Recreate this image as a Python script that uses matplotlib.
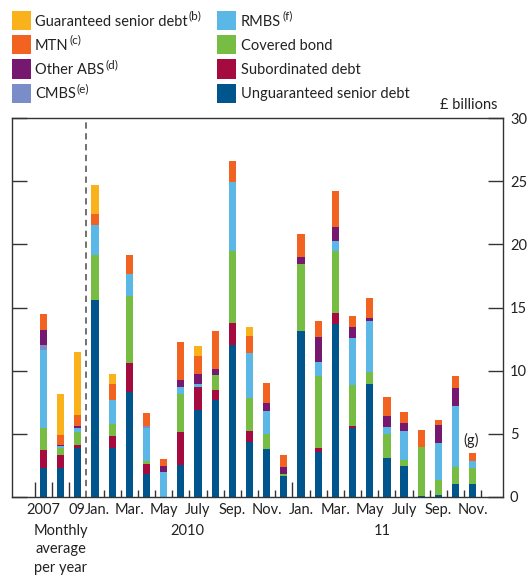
import matplotlib
matplotlib.use("Agg")
import matplotlib.pyplot as plt
import matplotlib.transforms as mtransforms
from matplotlib.patches import Rectangle
import numpy as np

plt.rcParams['font.family'] = ['Lato', 'DejaVu Sans']

# 2007-09 monthly averages, then Jan 2010 .. Nov 2011 (£ billions)
unguar = [2.3, 2.3, 3.9, 15.6, 3.9, 8.3, 1.83, 0, 2.57, 6.87, 7.67, 12.02, 4.38, 3.82, 1.67,
          13.13, 3.58, 13.71, 5.49, 8.91, 3.1, 2.47, 0.08, 0.16, 1.03, 1.03]
subord = [1.44, 1.04, 0.24, 0, 0.95, 2.28, 0.8, 0, 2.6, 1.8, 0.77, 1.75, 0.87, 0, 0,
          0, 0.32, 0.85, 0.13, 0, 0, 0, 0, 0, 0, 0]
covered = [1.75, 0.51, 0.98, 3.58, 0.91, 5.36, 0.23, 0, 2.97, 0, 1.19, 5.73, 2.57, 1.19, 0.16,
           5.33, 5.68, 4.94, 3.21, 0.96, 1.91, 0.47, 3.9, 1.19, 1.36, 1.28]
rmbs = [6.13, 0.21, 0.32, 2.33, 1.91, 1.75, 2.58, 1.99, 0.53, 0.24, 0, 5.4, 3.56, 1.83, 0,
        0, 1.08, 0.79, 3.74, 4.06, 0.56, 2.31, 0, 2.95, 4.85, 0.55]
cmbs = [0.4, 0, 0, 0, 0, 0, 0.2, 0, 0, 0, 0, 0, 0, 0, 0,
        0, 0, 0, 0, 0, 0, 0, 0, 0, 0, 0]
other_abs = [1.2, 0.08, 0.16, 0, 0, 0, 0, 0.48, 0.56, 0.8, 0.48, 0, 0, 0.64, 0.56,
             0.56, 1.99, 1.12, 0.88, 0.23, 0.88, 0.64, 0, 1.43, 1.35, 0]
mtn = [1.28, 0.79, 0.93, 0.88, 1.24, 1.49, 1.04, 0.55, 3.02, 1.43, 3.02, 1.68, 1.35, 1.51, 0.95,
       1.83, 1.28, 2.78, 0.87, 1.6, 1.43, 0.87, 1.35, 0.4, 0.96, 0.59]
guar = [0, 3.19, 4.93, 2.28, 0.8, 0, 0, 0, 0, 0.8, 0, 0, 0.72, 0, 0,
        0, 0, 0, 0, 0, 0, 0, 0, 0, 0, 0]

tick_pos = [0, 1.97, 3.12, 5, 7, 9, 11, 13, 15, 17, 19, 21, 23, 25]
tick_labels = ["2007", "09", "Jan.", "Mar.", "May", "July", "Sep.", "Nov.",
               "Jan.", "Mar.", "May", "July", "Sep.", "Nov."]

# bottom -> top stacking order: (name, footnote, values, colour)
series = [
    ("Unguaranteed senior debt", "", unguar, "#00568C"),
    ("Subordinated debt", "", subord, "#A50B3E"),
    ("Covered bond", "", covered, "#77BC43"),
    ("RMBS", "(f)", rmbs, "#5BB8E6"),
    ("CMBS", "(e)", cmbs, "#7B8DC8"),
    ("Other ABS", "(d)", other_abs, "#76186F"),
    ("MTN", "(c)", mtn, "#F26322"),
    ("Guaranteed senior debt", "(b)", guar, "#F9B21B"),
]

W, H = 529, 580
TXT = "#222222"
fig = plt.figure(figsize=(W / 100, H / 100), dpi=100)
ax = fig.add_axes([12 / W, 1 - 497 / H, (503 - 12) / W, (497 - 118) / H])

x = np.arange(len(unguar))
bottom = np.zeros(len(x))
for name, note, vals, col in series:
    vals = np.array(vals)
    ax.bar(x, vals, width=0.42, bottom=bottom, color=col, linewidth=0)
    bottom += vals

ax.set_xlim(-1.83, 26.76)
ax.set_ylim(0, 30)
ax.axvline(2.5, color="#666666", lw=1.3, ls=(0, (3.5, 2.5)))

for s in ax.spines.values():
    s.set_color("#333333")
    s.set_linewidth(1.0)

ax.yaxis.tick_right()
ax.set_yticks(range(0, 31, 5))
ax.tick_params(axis="y", which="both", direction="in", length=11, width=1.0,
               color="#333333", left=True, right=True, labelleft=False,
               labelright=True, labelsize=10.5, pad=5, labelcolor=TXT)
ax.set_xticks([])

trans = mtransforms.blended_transform_factory(ax.transData, ax.transAxes)
for p, lab in zip(tick_pos, tick_labels):
    ax.text(p, -13 / 379, lab, transform=trans, ha="center", va="center",
            fontsize=10.5, color=TXT)

# small separators between bars along the bottom
tall = [-0.5, 0.5, 1.5, 14.5]
for p in np.arange(-0.5, 26, 1.0):
    if p == 2.5:
        continue
    h = 15 / 379 if p in tall else 7 / 379
    ax.plot([p, p], [0, h], transform=trans, color="#333333", lw=1.0,
            clip_on=False, solid_capstyle="butt")

ax.text(1, -27 / 379, "Monthly\naverage\nper year", transform=trans, ha="center",
        va="top", fontsize=10.5, color=TXT, linespacing=1.4)
ax.text(8.4, -34 / 379, "2010", transform=trans, ha="center", va="center",
        fontsize=10.5, color=TXT)
ax.text(19.7, -34 / 379, "11", transform=trans, ha="center", va="center",
        fontsize=10.5, color=TXT)

ax.text(24.9, 4.5, "(g)", ha="center", va="center", fontsize=10.5, color=TXT)
fig.text(498 / W, 1 - 105 / H, "£ billions", ha="right", va="center",
         fontsize=10.5, color=TXT)

# legend, two columns of four
legend_order = [7, 6, 5, 4, 3, 2, 1, 0]
rows_y = [20.5, 44.5, 69, 93]
renderer = fig.canvas.get_renderer()
for k, si in enumerate(legend_order):
    name, note, vals, col = series[si]
    cx = 12 if k < 4 else 217
    tx = 35 if k < 4 else 241
    cy = rows_y[k % 4]
    fig.patches.append(Rectangle((cx / W, 1 - (cy + 9.5) / H), 19 / W, 19 / H,
                                 transform=fig.transFigure, color=col, lw=0))
    t = fig.text(tx / W, 1 - (cy + 5) / H, name, ha="left", va="baseline",
                 fontsize=10.5, color=TXT)
    if note:
        bb = t.get_window_extent(renderer)
        fig.text((bb.x1 + 1) / W, 1 - (cy - 1) / H, note, ha="left",
                 va="baseline", fontsize=8.5, color=TXT)

fig.savefig("out.png", dpi=100)
